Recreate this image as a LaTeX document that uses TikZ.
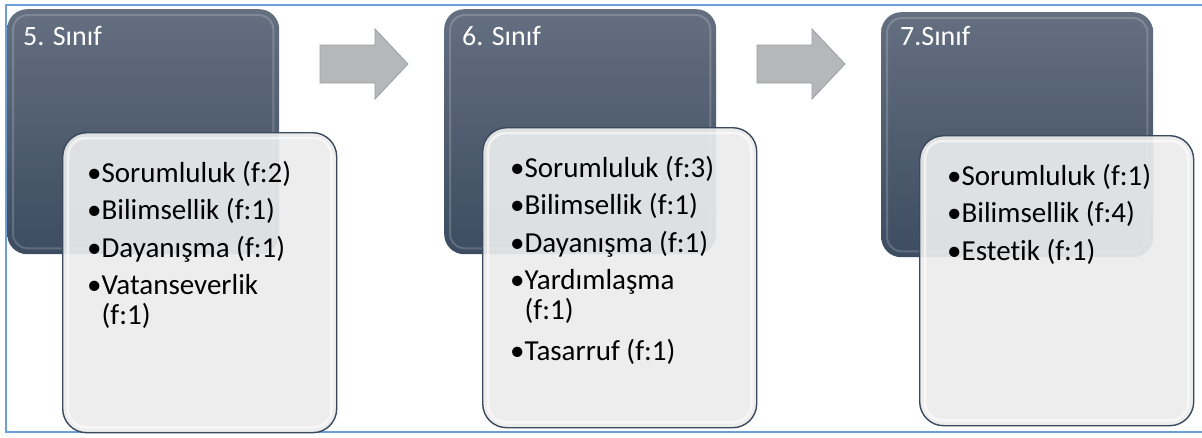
\documentclass[tikz,border=0pt]{standalone}
\usepackage{fontspec}
\setmainfont{Carlito}[Ligatures=NoCommon]
\definecolor{frameblue}{HTML}{6A9FDA}
\definecolor{slatetop}{HTML}{646F80}
\definecolor{slatebot}{HTML}{3D4C61}
\definecolor{slateedge}{HTML}{3A495D}
\definecolor{paper}{HTML}{ECECEC}
\definecolor{arrowgrey}{HTML}{B6B7BB}
\definecolor{arrowedge}{HTML}{9D9EA2}
\tikzset{
    gradebox/.style={shape=rectangle, rounded corners=20pt, top color=slatetop, bottom color=slatebot,
        minimum width=272pt, minimum height=245pt, inner sep=0pt, anchor=north west},
    listbox/.style={shape=rectangle, rounded corners=24pt, draw=slateedge, line width=1.4pt,
        fill=paper, fill opacity=0.92, minimum width=274pt, inner sep=0pt, anchor=north west},
    gleam/.style={rounded corners=18pt, draw=white, line width=2.5pt, opacity=0.6},
    slategleam/.style={rounded corners=15pt, draw=white, line width=2pt, opacity=0.18},
    gradetitle/.style={text=white, font=\fontsize{28}{30}\selectfont, inner sep=0pt, anchor=base west},
    itemlist/.style={text=black, font=\fontsize{29}{29}\selectfont, inner sep=0pt, anchor=base west},
    blockarrow/.style={fill=arrowgrey, draw=arrowedge, line width=0.8pt, line join=miter}
}
\newcommand{\itm}{\textbullet}
\newcommand{\hang}{\hphantom{\textbullet}}
\newenvironment{valuelist}{\begin{tabular}[t]{@{}l@{}}}{\end{tabular}}
\begin{document}
\begin{tikzpicture}[x=1pt, y=-1pt]
    \useasboundingbox (0,0) rectangle (1202,437);
    \fill[white] (0,0) rectangle (1202,437);
    \draw[frameblue, line width=2pt] (1203,5) -- (6,5) -- (6,432) -- (1203,432);

    % dark boxes with the class titles
    \node (d5) at (7,9) [gradebox] {};
    \node (d6) at (444,9) [gradebox] {};
    \node (d7) at (881,12) [gradebox] {};
    \foreach \b in {d5,d6,d7}
        \draw[slategleam] ([shift={(6,6)}]\b.north west) rectangle ([shift={(-6,-6)}]\b.south east);

    \node (t5) at ([shift={(16,36)}]d5.north west) [gradetitle] {5. Sınıf};
    \node (t6) at ([shift={(18,36)}]d6.north west) [gradetitle] {6. Sınıf};
    \node (t7) at ([shift={(19,33)}]d7.north west) [gradetitle] {7.Sınıf};

    % light boxes with the values
    \node (l5) at (62,132) [listbox, minimum height=300pt] {};
    \node (l6) at (482,127) [listbox, minimum height=300pt] {};
    \node (l7) at (919,135) [listbox, minimum height=290pt] {};
    \foreach \b in {l5,l6,l7}
        \draw[gleam] ([shift={(6,6)}]\b.north west) rectangle ([shift={(-6,-6)}]\b.south east);

    \node (v5) at ([shift={(25,50)}]l5.north west) [itemlist] {\begin{valuelist}
        \itm Sorumluluk (f:2)\\[8pt] \itm Bilimsellik (f:1)\\[8pt] \itm Dayanışma (f:1)\\[8pt]
        \itm Vatanseverlik\\ \hang(f:1)
    \end{valuelist}};
    \node (v6) at ([shift={(28,50)}]l6.north west) [itemlist] {\begin{valuelist}
        \itm Sorumluluk (f:3)\\[8pt] \itm Bilimsellik (f:1)\\[8pt] \itm Dayanışma (f:1)\\[8pt]
        \itm Yardımlaşma\\ \hang(f:1)\\[11pt] \itm Tasarruf (f:1)
    \end{valuelist}};
    \node (v7) at ([shift={(28,50)}]l7.north west) [itemlist] {\begin{valuelist}
        \itm Sorumluluk (f:1)\\[8pt] \itm Bilimsellik (f:4)\\[8pt] \itm Estetik (f:1)
    \end{valuelist}};

    % block arrows between the classes
    \coordinate (a5) at (320,64);
    \coordinate (a6) at (757,64);
    \foreach \a in {a5,a6}
        \draw[blockarrow] ([shift={(0,-19)}]\a) -- ++(55,0) -- ++(0,-16) -- ([shift={(88,0)}]\a)
            -- ([shift={(55,35)}]\a) -- ++(0,-16) -- ([shift={(0,19)}]\a) -- cycle;
\end{tikzpicture}
\end{document}
